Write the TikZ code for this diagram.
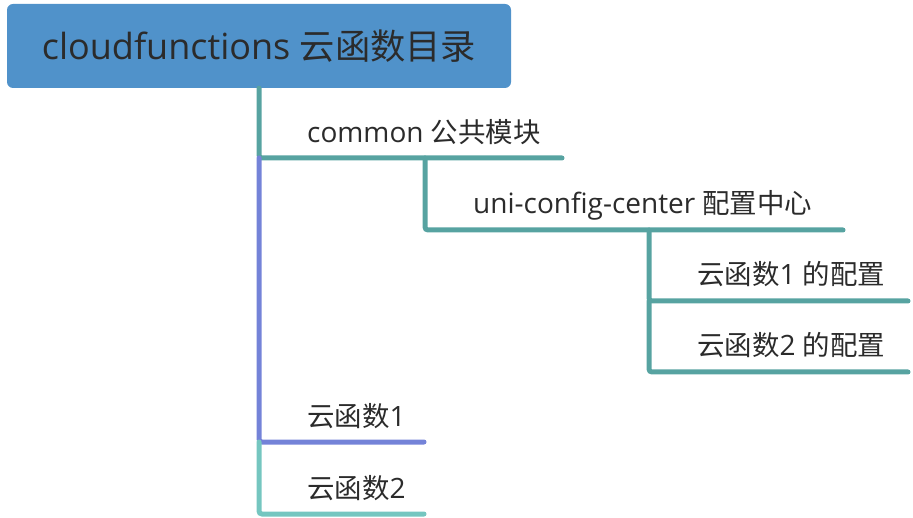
\documentclass[tikz,border=0pt]{standalone}
\usepackage{fontspec}
\setmainfont{Open Sans}
\newfontfamily\zhfont[Scale=0.98]{Noto Sans CJK SC}
\newcommand{\zh}[1]{{\zhfont #1}}
\definecolor{rootblue}{HTML}{5092CA}
\definecolor{branchteal}{HTML}{57A3A1}
\definecolor{branchblue}{HTML}{7483D8}
\definecolor{branchmint}{HTML}{75C6C0}
\definecolor{labelgray}{HTML}{2B2B2B}

\begin{document}
\begin{tikzpicture}[x=1pt, y=-1pt,
		root/.style={rectangle, fill=rootblue, rounded corners=6pt, minimum width=504pt, minimum height=84pt, text=labelgray, font=\fontsize{36}{40}\selectfont},
		topic/.style={anchor=base west, inner sep=0pt, text=labelgray, font=\fontsize{28}{30}\selectfont},
		branch/.style={line width=5pt, line cap=round, rounded corners=3pt}]
		
		\useasboundingbox (0,0) rectangle (913,518);
		
		\node[root] (dir) at (259,46) {cloudfunctions \zh{云函数目录}};
		
		% branch points
		\coordinate (common) at (259,158);
		\coordinate (commonend) at (562,158);
		\coordinate (center) at (425,230);
		\coordinate (centerend) at (843,230);
		\coordinate (cfgone) at (649,301);
		\coordinate (cfgoneend) at (908,301);
		\coordinate (cfgtwo) at (649,372);
		\coordinate (cfgtwoend) at (908,372);
		\coordinate (fnone) at (259,442);
		\coordinate (fnoneend) at (424,442);
		\coordinate (fntwo) at (259,514);
		\coordinate (fntwoend) at (424,514);
		
		\node[topic] (commontext) at (307,143) {common \zh{公共模块}};
		\node[topic] (centertext) at (473,214) {uni-config-center \zh{配置中心}};
		\node[topic] (cfgonetext) at (697,285) {\zh{云函数}1 \zh{的配置}};
		\node[topic] (cfgtwotext) at (697,356) {\zh{云函数}2 \zh{的配置}};
		\node[topic] (fnonetext) at (307,426) {\zh{云函数}1};
		\node[topic] (fntwotext) at (307,498) {\zh{云函数}2};
		
		\draw[branch, color=branchteal] (dir.south -| common) -- (common) -- (commonend);
		\draw[branch, color=branchteal] (common -| center) -- (center) -- (centerend);
		\draw[branch, color=branchteal] (center -| cfgone) -- (cfgone) -- (cfgoneend);
		\draw[branch, color=branchteal] (cfgone) -- (cfgtwo) -- (cfgtwoend);
		\draw[branch, color=branchblue] (common) -- (fnone) -- (fnoneend);
		\draw[branch, color=branchmint] (fnone) -- (fntwo) -- (fntwoend);
	\end{tikzpicture}
\end{document}
